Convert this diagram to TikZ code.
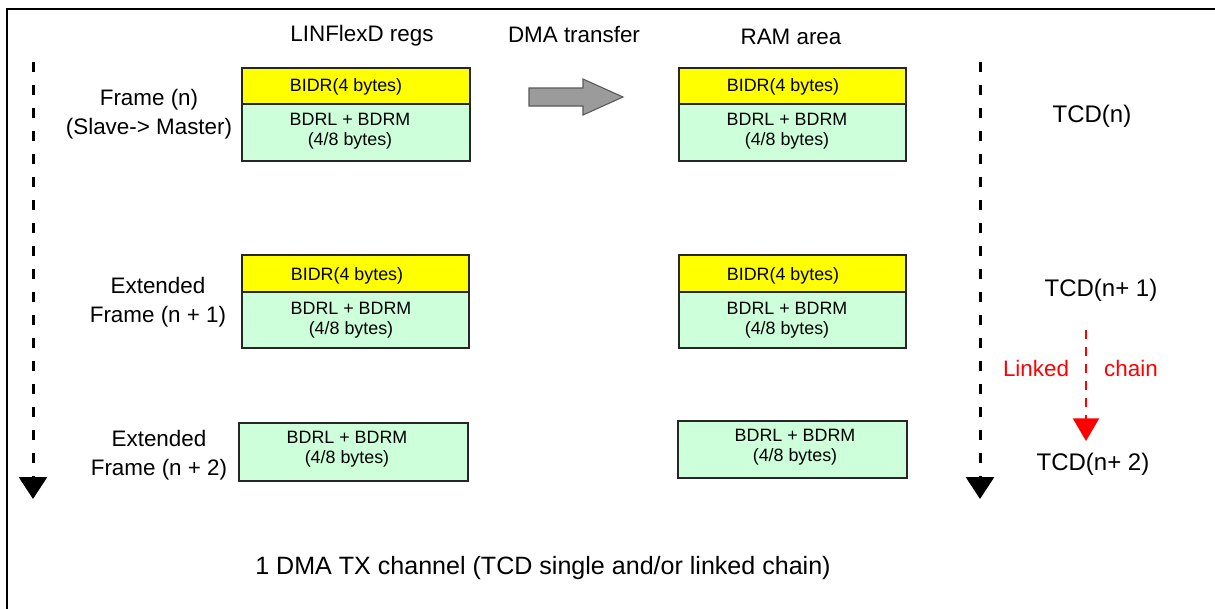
\documentclass[tikz,border=0pt]{standalone}
\usepackage{fontspec}
\setmainfont{Liberation Sans}
\usetikzlibrary{arrows.meta}
\definecolor{boxgreen}{RGB}{204,255,218}
\definecolor{boxyellow}{RGB}{255,255,0}
\definecolor{arrowgray}{RGB}{155,155,155}
\definecolor{chainred}{RGB}{255,0,0}
\begin{document}
\begin{tikzpicture}[x=0.75pt,y=-0.75pt,
  big/.style={font=\fontsize{16.8}{22}\selectfont, inner sep=0pt, align=center},
  tcd/.style={font=\fontsize{18}{22}\selectfont, inner sep=0pt, align=center},
  footer/.style={font=\fontsize{18.8}{22}\selectfont, inner sep=0pt, align=center},
  small/.style={font=\fontsize{13.4}{15}\selectfont, inner sep=0pt, align=center},
  ybox/.style={draw=black!85, line width=1.1pt, fill=boxyellow},
  gbox/.style={draw=black!85, line width=1.1pt, fill=boxgreen},
  timeline/.style={line width=2.25pt, dash pattern=on 7.5pt off 9.75pt, -{Triangle[width=21pt,length=16.5pt]}},
  chain/.style={chainred, line width=1.6pt, dash pattern=on 6.75pt off 6pt, -{Triangle[width=19.5pt,length=17pt]}}]
\useasboundingbox (0,0) rectangle (1215,608);
\fill[white] (0,0) rectangle (1215,608);
% outer frame
\draw[line width=1.5pt] (7,615) -- (7,9) -- (1220,9);

% headers
\node[big] (hL) at (362,36) {LINFlexD regs};
\node[big] (hD) at (574,34) {DMA transfer};
\node[big] (hR) at (791,37) {RAM area};

% time lines
\coordinate (tlA) at (33,62);
\coordinate (tlB) at (33,499);
\coordinate (trA) at (980,62);
\coordinate (trB) at (980,499);
\draw[timeline] (tlA) -- (tlB);
\draw[timeline] (trA) -- (trB);

% frame labels
\node[big] (f1) at (149,114) {Frame (n)\\(Slave-> Master)};
\node[big] (f2) at (158,302) {Extended\\Frame (n + 1)};
\node[big] (f3) at (159,455) {Extended\\Frame (n + 2)};

% boxes row 1
\draw[ybox] (242,68) rectangle (470,104);
\draw[gbox] (242,104) rectangle (470,161);
\node[small] (l1a) at (346,87) {BIDR(4 bytes)};
\node[small] (l1b) at (350,131) {BDRL + BDRM\\(4/8 bytes)};
\draw[ybox] (679,68) rectangle (906,104);
\draw[gbox] (679,104) rectangle (906,161);
\node[small] (r1a) at (783,87) {BIDR(4 bytes)};
\node[small] (r1b) at (787,131) {BDRL + BDRM\\(4/8 bytes)};

% boxes row 2
\draw[ybox] (242,255) rectangle (469,292);
\draw[gbox] (242,292) rectangle (469,348);
\node[small] (l2a) at (347,276) {BIDR(4 bytes)};
\node[small] (l2b) at (351,320) {BDRL + BDRM\\(4/8 bytes)};
\draw[ybox] (679,255) rectangle (906,292);
\draw[gbox] (679,292) rectangle (906,348);
\node[small] (r2a) at (783,276) {BIDR(4 bytes)};
\node[small] (r2b) at (787,320) {BDRL + BDRM\\(4/8 bytes)};

% boxes row 3
\draw[gbox] (239,423) rectangle (468,481);
\node[small] (l3) at (347,449) {BDRL + BDRM\\(4/8 bytes)};
\draw[gbox] (678,421) rectangle (907,478);
\node[small] (r3) at (795,447) {BDRL + BDRM\\(4/8 bytes)};

% DMA transfer arrow
\draw[fill=arrowgray, draw=black!65, line width=0.8pt]
  (529,88) -- (583,88) -- (583,79) -- (623,97) -- (583,115) -- (583,106) -- (529,106) -- cycle;

% TCD labels
\node[tcd] (t0) at (1092,116) {TCD(n)};
\node[tcd] (t1) at (1101,290) {TCD(n+ 1)};
\node[tcd] (t2) at (1093,464) {TCD(n+ 2)};

% linked chain
\coordinate (cA) at (1086,330);
\coordinate (cB) at (1086,441);
\draw[chain] (cA) -- (cB);
\node[big, text=chainred] (lk) at (1036,368) {Linked};
\node[big, text=chainred] (ch) at (1131,368) {chain};

% footer
\node[footer] (foot) at (543,568) {1 DMA TX channel (TCD single and/or linked chain)};
\end{tikzpicture}
\end{document}
